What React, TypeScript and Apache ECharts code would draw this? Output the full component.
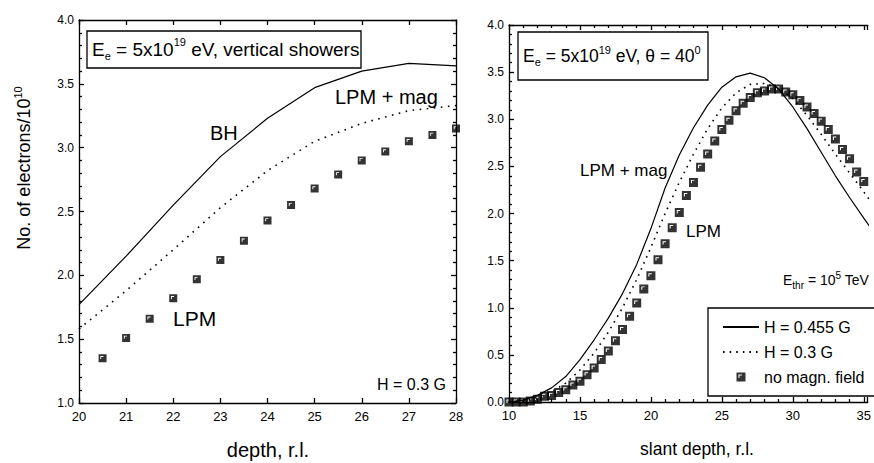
import React, { useEffect, useRef } from "react";
import * as echarts from "echarts";

const FONT = "'Liberation Sans', Arial, Helvetica, sans-serif";

// ---- Left panel: vertical showers ----
const depthX = [20, 21, 22, 23, 24, 25, 26, 27, 28];
const bhValues = [1.77, 2.15, 2.55, 2.93, 3.23, 3.47, 3.6, 3.66, 3.64];
const lpmMagLeftValues = [1.58, 1.88, 2.2, 2.53, 2.82, 3.05, 3.19, 3.29, 3.33];
const lpmLeftX = [20.5, 21, 21.5, 22, 22.5, 23, 23.5, 24, 24.5, 25, 25.5, 26, 26.5, 27, 27.5, 28];
const lpmLeftValues = [1.35, 1.51, 1.66, 1.82, 1.97, 2.12, 2.27, 2.43, 2.55, 2.68, 2.79, 2.9, 2.97, 3.05, 3.1, 3.15];

// ---- Right panel: theta = 40 deg ----
const slantX = [10, 11, 12, 13, 14, 15, 16, 17, 18, 19, 20, 21, 22, 23, 24, 25, 26, 27, 28, 29, 30, 31, 32, 33, 34, 35, 36];
const h0455Values = [0, 0.02, 0.07, 0.15, 0.27, 0.45, 0.66, 0.89, 1.15, 1.46, 1.84, 2.27, 2.62, 2.91, 3.15, 3.34, 3.45, 3.49, 3.44, 3.32, 3.13, 2.9, 2.65, 2.4, 2.17, 1.95, 1.74];
const h03Values = [0, 0.01, 0.05, 0.11, 0.2, 0.34, 0.52, 0.74, 1.0, 1.3, 1.64, 2.0, 2.33, 2.63, 2.9, 3.12, 3.28, 3.37, 3.38, 3.33, 3.22, 3.04, 2.84, 2.63, 2.43, 2.23, 2.02];
const noFieldX = [10, 10.5, 11, 11.5, 12, 12.5, 13, 13.5, 14, 14.5, 15, 15.5, 16, 16.5, 17, 17.5, 18, 18.5, 19, 19.5, 20, 20.5, 21, 21.5, 22, 22.5, 23, 23.5, 24, 24.5, 25, 25.5, 26, 26.5, 27, 27.5, 28, 28.5, 29, 29.5, 30, 30.5, 31, 31.5, 32, 32.5, 33, 33.5, 34, 34.5, 35, 35.5];
const noFieldValues = [0, 0, 0, 0.01, 0.03, 0.06, 0.07, 0.1, 0.13, 0.18, 0.22, 0.29, 0.36, 0.45, 0.54, 0.65, 0.77, 0.91, 1.05, 1.2, 1.34, 1.51, 1.68, 1.85, 2.01, 2.19, 2.33, 2.49, 2.63, 2.77, 2.89, 2.99, 3.09, 3.17, 3.23, 3.28, 3.3, 3.32, 3.32, 3.29, 3.26, 3.2, 3.13, 3.06, 2.98, 2.89, 2.79, 2.68, 2.58, 2.44, 2.34, 2.22];

const SQUARE = "path://M0,0H10V10H0Z M2.2,2.2V6H3.3V3.3H6V2.2Z";

const zip = (xs: number[], ys: number[]) => xs.map((x, i) => [x, ys[i]]);

const lineStyle = { color: "#000", width: 1.3 };

function xAxisDef(grid: number, min: number, max: number, interval: number, pos: "top" | "bottom", minor: boolean, labels: boolean) {
  return {
    type: "value",
    gridIndex: grid,
    position: pos,
    min,
    max,
    interval,
    axisLine: { show: true, onZero: false, lineStyle },
    axisTick: { show: true, inside: true, length: 5, lineStyle },
    minorTick: { show: minor, splitNumber: 5, length: 3, lineStyle },
    splitLine: { show: false },
    axisLabel: {
      show: labels,
      color: "#000",
      fontFamily: FONT,
      fontSize: 13,
      margin: 7,
      showMaxLabel: Number.isInteger(max / interval),
      formatter: (v: number) => (Math.abs(v / interval - Math.round(v / interval)) < 1e-6 ? String(v) : ""),
    },
  };
}

function yAxisDef(grid: number, min: number, max: number, pos: "left" | "right", labels: boolean, show = true) {
  return {
    type: "value",
    gridIndex: grid,
    position: pos,
    show,
    min,
    max,
    interval: 0.5,
    axisLine: { show: true, onZero: false, lineStyle },
    axisTick: { show: true, inside: true, length: 5, lineStyle },
    minorTick: { show: true, splitNumber: 5, length: 3, lineStyle },
    splitLine: { show: false },
    axisLabel: {
      show: labels,
      color: "#000",
      fontFamily: FONT,
      fontSize: 12,
      margin: 5,
      formatter: (v: number) => v.toFixed(1),
    },
  };
}

function label(x: number, y: number, text: string, size: number, extra: any = {}) {
  return {
    type: "text",
    x,
    y,
    silent: true,
    ...extra,
    style: {
      text,
      fill: "#000",
      fontFamily: FONT,
      fontSize: size,
      align: extra.align || "left",
      verticalAlign: "middle",
      textAlign: extra.align || "left",
      textVerticalAlign: "middle",
      rich: extra.rich,
    },
  };
}

function richStyles(main: number, small: number) {
  return {
    m: { fontFamily: FONT, fontSize: main, lineHeight: main + 6, fill: "#000" },
    sup: { fontFamily: FONT, fontSize: small, lineHeight: small, verticalAlign: "top", fill: "#000" },
    sub: { fontFamily: FONT, fontSize: small, lineHeight: small, verticalAlign: "bottom", fill: "#000" },
  };
}

export default function App() {
  const ref = useRef<HTMLDivElement>(null);

  useEffect(() => {
    if (!ref.current) return;
    const chart = echarts.init(ref.current, undefined, { renderer: "svg" });

    const option: any = {
      animation: false,
      backgroundColor: "#fff",
      grid: [
        { left: 79, top: 20, width: 377, height: 383 },
        { left: 509, top: 25, width: 365, height: 377 },
      ],
      xAxis: [
        xAxisDef(0, 20, 28, 1, "bottom", false, true),
        xAxisDef(0, 20, 28, 1, "top", false, false),
        xAxisDef(1, 10, 35.28, 5, "bottom", true, true),
        xAxisDef(1, 10, 35.28, 5, "top", true, false),
      ],
      yAxis: [
        yAxisDef(0, 1, 4, "left", true),
        yAxisDef(0, 1, 4, "right", false),
        yAxisDef(1, 0, 4, "left", true),
        yAxisDef(1, 0, 4, "right", false, false),
      ],
      legend: {
        data: [
          { name: "H = 0.455 G", itemStyle: { opacity: 0 } },
          { name: "H = 0.3 G", itemStyle: { opacity: 0 } },
          { name: "no magn. field", icon: SQUARE },
        ],
        orient: "vertical",
        left: 722,
        top: 319,
        padding: 0,
        itemWidth: 36,
        itemHeight: 9,
        itemGap: 9,
        selectedMode: false,
        symbolKeepAspect: true,
        textStyle: { fontFamily: FONT, fontSize: 16, color: "#000" },
      },
      series: [
        {
          name: "BH",
          type: "line",
          xAxisIndex: 0,
          yAxisIndex: 0,
          data: zip(depthX, bhValues),
          symbol: "none",
          lineStyle: { color: "#000", width: 1.2 },
        },
        {
          name: "LPM + mag",
          type: "line",
          xAxisIndex: 0,
          yAxisIndex: 0,
          data: zip(depthX, lpmMagLeftValues),
          symbol: "none",
          lineStyle: { color: "#000", width: 1.6, type: [1.6, 5.5] },
        },
        {
          name: "LPM",
          type: "scatter",
          xAxisIndex: 0,
          yAxisIndex: 0,
          data: zip(lpmLeftX, lpmLeftValues),
          symbol: SQUARE,
          symbolSize: 8,
          itemStyle: { color: "#000" },
        },
        {
          name: "H = 0.455 G",
          type: "line",
          xAxisIndex: 2,
          yAxisIndex: 2,
          data: zip(slantX, h0455Values),
          symbol: "none",
          itemStyle: { color: "#000" },
          lineStyle: { color: "#000", width: 1.2 },
        },
        {
          name: "H = 0.3 G",
          type: "line",
          xAxisIndex: 2,
          yAxisIndex: 2,
          data: zip(slantX, h03Values),
          symbol: "none",
          itemStyle: { color: "#000" },
          lineStyle: { color: "#000", width: 1.6, type: [1.6, 5] },
        },
        {
          name: "no magn. field",
          type: "scatter",
          xAxisIndex: 2,
          yAxisIndex: 2,
          data: zip(noFieldX, noFieldValues),
          symbol: SQUARE,
          symbolSize: 9,
          itemStyle: { color: "#000" },
        },
      ],
      graphic: [
        // left title box
        {
          type: "rect",
          shape: { x: 87, y: 31, width: 274, height: 37 },
          style: { fill: "#fff", stroke: "#000", lineWidth: 1.3 },
          z: 10,
        },
        label(92, 49, "{m|E}{sub|e}{m| = 5x10}{sup|19}{m| eV, vertical showers}", 19, {
          rich: richStyles(19, 11),
          z: 11,
        }),
        label(210, 133, "BH", 20),
        label(335, 97, "LPM + mag", 20),
        label(173, 318, "LPM", 21),
        label(377, 384, "H = 0.3 G", 16),
        // left axis titles
        label(268, 450, "depth, r.l.", 20, { align: "center" }),
        label(24, 168, "{m|No. of electrons/10}{sup|10}", 18, {
          align: "center",
          rotation: Math.PI / 2,
          rich: richStyles(18, 11),
        }),
        // right title box
        {
          type: "rect",
          shape: { x: 518, y: 32, width: 190, height: 48 },
          style: { fill: "#fff", stroke: "#000", lineWidth: 1.3 },
          z: 10,
        },
        label(523, 56, "{m|E}{sub|e}{m| = 5x10}{sup|19}{m| eV, θ = 40}{sup|0}", 17.5, {
          rich: richStyles(17.5, 11),
          z: 11,
        }),
        label(580, 170, "LPM + mag", 17),
        label(686, 231, "LPM", 17),
        label(783, 280, "{m|E}{sub|thr}{m| = 10}{sup|5}{m| TeV}", 14, {
          rich: richStyles(14, 10),
        }),
        // legend box
        {
          type: "rect",
          shape: { x: 708, y: 308, width: 200, height: 88 },
          style: { fill: "#fff", stroke: "#000", lineWidth: 1.3 },
          z: 0,
        },
        label(697, 449, "slant depth, r.l.", 17.5, { align: "center" }),
      ],
    };

    chart.setOption(option);
    return () => chart.dispose();
  }, []);

  return (
    <div
      ref={ref}
      style={{ position: "fixed", left: 0, top: 0, width: 874, height: 463, background: "#fff" }}
    />
  );
}
